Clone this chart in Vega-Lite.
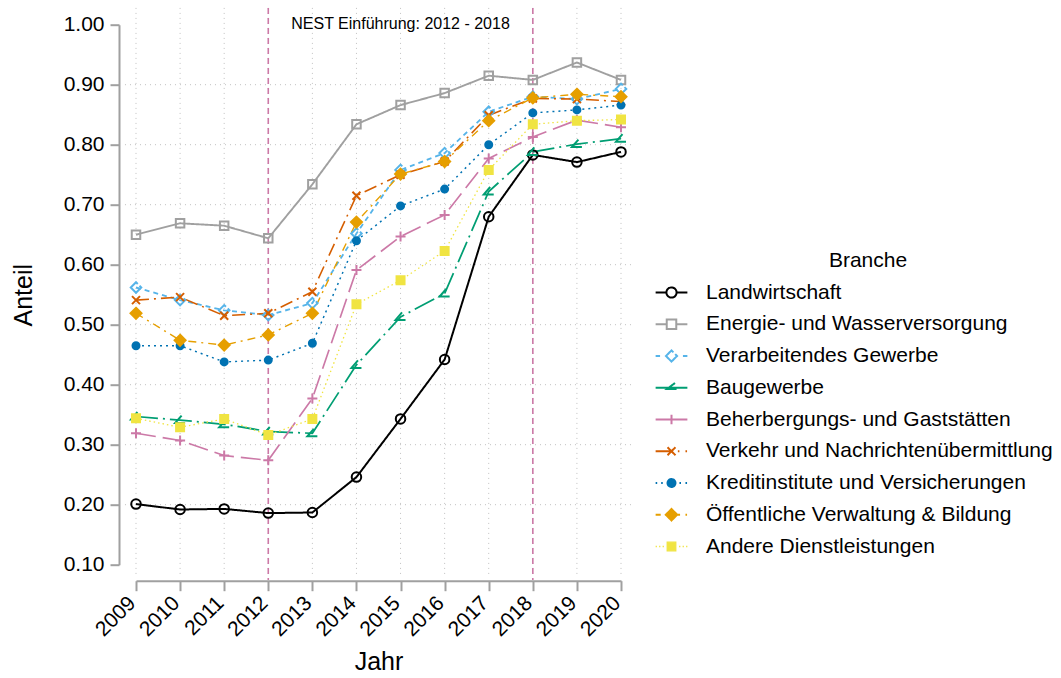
{
  "$schema": "https://vega.github.io/schema/vega-lite/v6.json",
  "width": 485,
  "height": 540,
  "autosize": {"type": "none"},
  "padding": {"left": 136, "top": 24.7, "right": 440, "bottom": 113.3},
  "background": "white",
  "config": {
    "view": {"stroke": null},
    "font": "Liberation Sans",
    "axis": {
      "domainColor": "#a0a0a0", "domainWidth": 2, "tickColor": "#a0a0a0", "tickWidth": 2,
      "labelFont": "Liberation Sans", "labelFontSize": 21, "labelColor": "#000000",
      "titleFont": "Liberation Sans", "titleFontSize": 25, "titleFontWeight": "normal", "titleColor": "#000000",
      "grid": false, "labelFlush": false, "labelOverlap": false
    }
  },
  "layer": [
    {
      "data": {"values": [{"g": 0.2}, {"g": 0.3}, {"g": 0.4}, {"g": 0.5}, {"g": 0.6}, {"g": 0.7}, {"g": 0.8}, {"g": 0.9}]},
      "mark": {"type": "rule", "color": "#c0c0c0", "strokeWidth": 1, "strokeDash": [1, 4]},
      "encoding": {
        "y": {"field": "g", "type": "quantitative", "title": "Anteil"},
        "x": {"datum": 2008.75, "type": "quantitative", "title": "Jahr"},
        "x2": {"datum": 2020.3}
      }
    },
    {
      "data": {"values": [{"Jahr": 2009}, {"Jahr": 2010}, {"Jahr": 2011}, {"Jahr": 2012}, {"Jahr": 2013}, {"Jahr": 2014}, {"Jahr": 2015}, {"Jahr": 2016}, {"Jahr": 2017}, {"Jahr": 2018}, {"Jahr": 2019}, {"Jahr": 2020}]},
      "mark": {"type": "rule", "color": "#c0c0c0", "strokeWidth": 1, "strokeDash": [1, 4]},
      "encoding": {
        "x": {"field": "Jahr", "type": "quantitative", "title": "Jahr"},
        "y": {"datum": 1.028, "type": "quantitative", "title": "Anteil"},
        "y2": {"datum": 0.08}
      }
    },
    {
      "data": {"values": [{"Jahr": 2012}, {"Jahr": 2018}]},
      "mark": {"type": "rule", "color": "#CC79A7", "strokeWidth": 1.6, "strokeDash": [6, 4]},
      "encoding": {
        "x": {"field": "Jahr", "type": "quantitative", "title": "Jahr"},
        "y": {"datum": 1.028, "type": "quantitative", "title": "Anteil"},
        "y2": {"datum": 0.0745}
      }
    },
    {
      "data": {"values": [{"Jahr": 2015, "label": "NEST Einführung: 2012 - 2018"}]},
      "mark": {"type": "text", "fontSize": 16, "font": "Liberation Sans", "color": "#000000", "align": "center", "baseline": "middle", "dy": -1},
      "encoding": {
        "x": {"field": "Jahr", "type": "quantitative", "title": "Jahr"},
        "y": {"datum": 1.0, "type": "quantitative", "title": "Anteil"},
        "text": {"field": "label"}
      }
    },
    {
      "data": {"name": "main"},
      "mark": {"type": "line", "strokeCap": "butt", "strokeJoin": "miter"},
      "encoding": {
        "x": {"field": "Jahr", "type": "quantitative",
              "scale": {"domain": [2009, 2020], "nice": false, "zero": false},
              "axis": {"values": [2009, 2010, 2011, 2012, 2013, 2014, 2015, 2016, 2017, 2018, 2019, 2020], "format": "d", "labelAngle": -45, "labelAlign": "right", "labelBaseline": "middle", "labelOffset": -4, "offset": 16, "tickSize": 10, "labelPadding": 9, "title": "Jahr", "titlePadding": 10}},
        "y": {"field": "Anteil", "type": "quantitative",
              "scale": {"domain": [0.1, 1.0], "nice": false, "zero": false},
              "axis": {"values": [0.1, 0.2, 0.3, 0.4, 0.5, 0.6, 0.7, 0.8, 0.9, 1.0], "format": ".2f", "offset": 17, "tickSize": 9, "labelPadding": 6, "title": "Anteil", "titlePadding": 27}},
        "stroke": {"field": "Branche", "type": "nominal",
          "scale": {"domain": ["Landwirtschaft", "Energie- und Wasserversorgung", "Verarbeitendes Gewerbe", "Baugewerbe", "Beherbergungs- und Gaststätten", "Verkehr und Nachrichtenübermittlung", "Kreditinstitute und Versicherungen", "Öffentliche Verwaltung & Bildung", "Andere Dienstleistungen"],
                    "range": ["#000000", "#a0a0a0", "#56B4E9", "#009E73", "#CC79A7", "#D55E00", "#0072B2", "#E69F00", "#F0E442"]},
          "legend": {
            "title": "Branche", "orient": "none", "legendX": 525, "legendY": 225.3, "padding": 0,
            "titleFont": "Liberation Sans", "titleFontSize": 21, "titleFontWeight": "normal", "titleColor": "#000000",
            "titleAnchor": "middle", "titlePadding": 11,
            "labelFont": "Liberation Sans", "labelFontSize": 21, "labelColor": "#000000", "labelOffset": 24, "labelLimit": 600,
            "symbolSize": 1008, "rowPadding": 9.75, "symbolStrokeWidth": 2,
            "encode": {
              "title": {"update": {"dx": {"value": 11}}},
              "symbols": {
                "update": {
                  "shape": {"signal": "datum.value === 'Landwirtschaft' ? 'M-1,0L-0.32,0M0.32,0L1,0M0.32,0A0.32,0.32,0,1,1,-0.32,0A0.32,0.32,0,1,1,0.32,0' : datum.value === 'Energie- und Wasserversorgung' ? 'M-1,0L-0.3,0M0.3,0L1,0M-0.3,-0.3L0.3,-0.3L0.3,0.3L-0.3,0.3Z' : datum.value === 'Verarbeitendes Gewerbe' ? 'M-1,0L-0.72,0M0.72,0L1,0M0.12,-0.23L0,-0.35L-0.35,0L0,0.35L0.35,0L0.23,-0.12' : datum.value === 'Baugewerbe' ? 'M-1,0L1,0M0.22,-0.3L-0.28,0.08L0.32,0.08' : datum.value === 'Beherbergungs- und Gaststätten' ? 'M-1,0L1,0M0,-0.3L0,0.3' : datum.value === 'Verkehr und Nachrichtenübermittlung' ? 'M-1,0L0.1,0M0.4,0L0.5,0M0.88,0L0.98,0M-0.25,-0.25L0.25,0.25M-0.25,0.25L0.25,-0.25' : datum.value === 'Kreditinstitute und Versicherungen' ? 'M-1,0L-0.9,0M-0.65,0L-0.55,0M0.5,0L0.6,0M0.88,0L0.98,0M0.25,0A0.25,0.25,0,1,1,-0.25,0A0.25,0.25,0,1,1,0.25,0' : datum.value === 'Öffentliche Verwaltung & Bildung' ? 'M-1,0L-0.68,0M0.3,0L0.54,0M0.88,0L0.98,0M0,-0.36L0.36,0L0,0.36L-0.36,0Z' : 'M-1,0L-0.92,0M-0.78,0L-0.7,0M-0.56,0L-0.48,0M0.48,0L0.56,0M0.7,0L0.78,0M0.92,0L1,0M-0.27,-0.27L0.27,-0.27L0.27,0.27L-0.27,0.27Z'"},
                  "fill": {"signal": "datum.value === 'Kreditinstitute und Versicherungen' ? '#0072B2' : datum.value === 'Öffentliche Verwaltung & Bildung' ? '#E69F00' : datum.value === 'Andere Dienstleistungen' ? '#F0E442' : 'transparent'"},
                  "strokeWidth": {"signal": "datum.value === 'Andere Dienstleistungen' ? 1.3 : 2"},
                  "strokeDash": {"value": [1, 0]},
                  "opacity": {"value": 1}
                }
              }
            }
          }
        },
        "strokeDash": {"field": "Branche", "type": "nominal", "legend": null,
          "scale": {"domain": ["Andere Dienstleistungen", "Öffentliche Verwaltung & Bildung", "Kreditinstitute und Versicherungen", "Verkehr und Nachrichtenübermittlung", "Beherbergungs- und Gaststätten", "Baugewerbe", "Verarbeitendes Gewerbe", "Energie- und Wasserversorgung", "Landwirtschaft"],
                    "range": [[1.5, 3], [8, 5, 2, 5], [2, 4], [13, 5, 2, 5], [20, 7], [22, 5, 2, 5], [5, 4], [1, 0], [1, 0]]}},
        "strokeWidth": {"field": "Branche", "type": "nominal", "legend": null,
          "scale": {"domain": ["Andere Dienstleistungen", "Öffentliche Verwaltung & Bildung", "Kreditinstitute und Versicherungen", "Verkehr und Nachrichtenübermittlung", "Beherbergungs- und Gaststätten", "Baugewerbe", "Verarbeitendes Gewerbe", "Energie- und Wasserversorgung", "Landwirtschaft"],
                    "range": [1.3, 2, 2, 2, 2, 2, 2, 2.2, 2.2]}}
      }
    },
    {
      "data": {"name": "main"},
      "mark": {"type": "point", "size": 100, "strokeWidth": 2, "opacity": 1, "filled": false},
      "encoding": {
        "x": {"field": "Jahr", "type": "quantitative", "title": "Jahr"},
        "y": {"field": "Anteil", "type": "quantitative", "title": "Anteil"},
        "stroke": {"field": "Branche", "type": "nominal",
          "scale": {"domain": ["Landwirtschaft", "Energie- und Wasserversorgung", "Verarbeitendes Gewerbe", "Baugewerbe", "Beherbergungs- und Gaststätten", "Verkehr und Nachrichtenübermittlung", "Kreditinstitute und Versicherungen", "Öffentliche Verwaltung & Bildung", "Andere Dienstleistungen"],
                    "range": ["#000000", "#a0a0a0", "#56B4E9", "#009E73", "#CC79A7", "#D55E00", "#0072B2", "#E69F00", "#F0E442"]}},
        "fill": {"field": "Branche", "type": "nominal", "legend": null,
          "scale": {"domain": ["Andere Dienstleistungen", "Öffentliche Verwaltung & Bildung", "Kreditinstitute und Versicherungen", "Verkehr und Nachrichtenübermittlung", "Beherbergungs- und Gaststätten", "Baugewerbe", "Verarbeitendes Gewerbe", "Energie- und Wasserversorgung", "Landwirtschaft"],
                    "range": ["#F0E442", "#E69F00", "#0072B2", "transparent", "transparent", "transparent", "transparent", "transparent", "transparent"]}},
        "shape": {"field": "Branche", "type": "nominal", "legend": null,
          "scale": {"domain": ["Andere Dienstleistungen", "Öffentliche Verwaltung & Bildung", "Kreditinstitute und Versicherungen", "Verkehr und Nachrichtenübermittlung", "Beherbergungs- und Gaststätten", "Baugewerbe", "Verarbeitendes Gewerbe", "Energie- und Wasserversorgung", "Landwirtschaft"],
                    "range": ["M-0.8,-0.8L0.8,-0.8L0.8,0.8L-0.8,0.8Z", "M0,-1.1L1.1,0L0,1.1L-1.1,0Z", "M0.7,0A0.7,0.7,0,1,1,-0.7,0A0.7,0.7,0,1,1,0.7,0", "M-0.8,-0.8L0.8,0.8M-0.8,0.8L0.8,-0.8", "M-1,0L1,0M0,-1L0,1", "M0.3,-0.9L-1,0.6L1,0.6", "M0.35,-0.7L0,-1.05L-1.05,0L0,1.05L1.05,0L0.7,-0.35", "M-0.85,-0.85L0.85,-0.85L0.85,0.85L-0.85,0.85Z", "M0.95,0A0.95,0.95,0,1,1,-0.95,0A0.95,0.95,0,1,1,0.95,0"]}}
      }
    }
  ],
  "datasets": {
    "main": [
      {"Branche": "Landwirtschaft", "Jahr": 2009, "Anteil": 0.201},
      {"Branche": "Landwirtschaft", "Jahr": 2010, "Anteil": 0.192},
      {"Branche": "Landwirtschaft", "Jahr": 2011, "Anteil": 0.193},
      {"Branche": "Landwirtschaft", "Jahr": 2012, "Anteil": 0.186},
      {"Branche": "Landwirtschaft", "Jahr": 2013, "Anteil": 0.187},
      {"Branche": "Landwirtschaft", "Jahr": 2014, "Anteil": 0.246},
      {"Branche": "Landwirtschaft", "Jahr": 2015, "Anteil": 0.343},
      {"Branche": "Landwirtschaft", "Jahr": 2016, "Anteil": 0.442},
      {"Branche": "Landwirtschaft", "Jahr": 2017, "Anteil": 0.680},
      {"Branche": "Landwirtschaft", "Jahr": 2018, "Anteil": 0.783},
      {"Branche": "Landwirtschaft", "Jahr": 2019, "Anteil": 0.771},
      {"Branche": "Landwirtschaft", "Jahr": 2020, "Anteil": 0.788},
      {"Branche": "Energie- und Wasserversorgung", "Jahr": 2009, "Anteil": 0.650},
      {"Branche": "Energie- und Wasserversorgung", "Jahr": 2010, "Anteil": 0.669},
      {"Branche": "Energie- und Wasserversorgung", "Jahr": 2011, "Anteil": 0.665},
      {"Branche": "Energie- und Wasserversorgung", "Jahr": 2012, "Anteil": 0.644},
      {"Branche": "Energie- und Wasserversorgung", "Jahr": 2013, "Anteil": 0.734},
      {"Branche": "Energie- und Wasserversorgung", "Jahr": 2014, "Anteil": 0.834},
      {"Branche": "Energie- und Wasserversorgung", "Jahr": 2015, "Anteil": 0.866},
      {"Branche": "Energie- und Wasserversorgung", "Jahr": 2016, "Anteil": 0.886},
      {"Branche": "Energie- und Wasserversorgung", "Jahr": 2017, "Anteil": 0.915},
      {"Branche": "Energie- und Wasserversorgung", "Jahr": 2018, "Anteil": 0.908},
      {"Branche": "Energie- und Wasserversorgung", "Jahr": 2019, "Anteil": 0.937},
      {"Branche": "Energie- und Wasserversorgung", "Jahr": 2020, "Anteil": 0.908},
      {"Branche": "Verarbeitendes Gewerbe", "Jahr": 2009, "Anteil": 0.562},
      {"Branche": "Verarbeitendes Gewerbe", "Jahr": 2010, "Anteil": 0.541},
      {"Branche": "Verarbeitendes Gewerbe", "Jahr": 2011, "Anteil": 0.524},
      {"Branche": "Verarbeitendes Gewerbe", "Jahr": 2012, "Anteil": 0.516},
      {"Branche": "Verarbeitendes Gewerbe", "Jahr": 2013, "Anteil": 0.536},
      {"Branche": "Verarbeitendes Gewerbe", "Jahr": 2014, "Anteil": 0.652},
      {"Branche": "Verarbeitendes Gewerbe", "Jahr": 2015, "Anteil": 0.758},
      {"Branche": "Verarbeitendes Gewerbe", "Jahr": 2016, "Anteil": 0.786},
      {"Branche": "Verarbeitendes Gewerbe", "Jahr": 2017, "Anteil": 0.855},
      {"Branche": "Verarbeitendes Gewerbe", "Jahr": 2018, "Anteil": 0.880},
      {"Branche": "Verarbeitendes Gewerbe", "Jahr": 2019, "Anteil": 0.876},
      {"Branche": "Verarbeitendes Gewerbe", "Jahr": 2020, "Anteil": 0.893},
      {"Branche": "Baugewerbe", "Jahr": 2009, "Anteil": 0.347},
      {"Branche": "Baugewerbe", "Jahr": 2010, "Anteil": 0.341},
      {"Branche": "Baugewerbe", "Jahr": 2011, "Anteil": 0.334},
      {"Branche": "Baugewerbe", "Jahr": 2012, "Anteil": 0.322},
      {"Branche": "Baugewerbe", "Jahr": 2013, "Anteil": 0.319},
      {"Branche": "Baugewerbe", "Jahr": 2014, "Anteil": 0.433},
      {"Branche": "Baugewerbe", "Jahr": 2015, "Anteil": 0.513},
      {"Branche": "Baugewerbe", "Jahr": 2016, "Anteil": 0.552},
      {"Branche": "Baugewerbe", "Jahr": 2017, "Anteil": 0.722},
      {"Branche": "Baugewerbe", "Jahr": 2018, "Anteil": 0.788},
      {"Branche": "Baugewerbe", "Jahr": 2019, "Anteil": 0.801},
      {"Branche": "Baugewerbe", "Jahr": 2020, "Anteil": 0.810},
      {"Branche": "Beherbergungs- und Gaststätten", "Jahr": 2009, "Anteil": 0.319},
      {"Branche": "Beherbergungs- und Gaststätten", "Jahr": 2010, "Anteil": 0.307},
      {"Branche": "Beherbergungs- und Gaststätten", "Jahr": 2011, "Anteil": 0.282},
      {"Branche": "Beherbergungs- und Gaststätten", "Jahr": 2012, "Anteil": 0.274},
      {"Branche": "Beherbergungs- und Gaststätten", "Jahr": 2013, "Anteil": 0.377},
      {"Branche": "Beherbergungs- und Gaststätten", "Jahr": 2014, "Anteil": 0.591},
      {"Branche": "Beherbergungs- und Gaststätten", "Jahr": 2015, "Anteil": 0.647},
      {"Branche": "Beherbergungs- und Gaststätten", "Jahr": 2016, "Anteil": 0.683},
      {"Branche": "Beherbergungs- und Gaststätten", "Jahr": 2017, "Anteil": 0.777},
      {"Branche": "Beherbergungs- und Gaststätten", "Jahr": 2018, "Anteil": 0.813},
      {"Branche": "Beherbergungs- und Gaststätten", "Jahr": 2019, "Anteil": 0.841},
      {"Branche": "Beherbergungs- und Gaststätten", "Jahr": 2020, "Anteil": 0.829},
      {"Branche": "Verkehr und Nachrichtenübermittlung", "Jahr": 2009, "Anteil": 0.541},
      {"Branche": "Verkehr und Nachrichtenübermittlung", "Jahr": 2010, "Anteil": 0.546},
      {"Branche": "Verkehr und Nachrichtenübermittlung", "Jahr": 2011, "Anteil": 0.515},
      {"Branche": "Verkehr und Nachrichtenübermittlung", "Jahr": 2012, "Anteil": 0.519},
      {"Branche": "Verkehr und Nachrichtenübermittlung", "Jahr": 2013, "Anteil": 0.555},
      {"Branche": "Verkehr und Nachrichtenübermittlung", "Jahr": 2014, "Anteil": 0.715},
      {"Branche": "Verkehr und Nachrichtenübermittlung", "Jahr": 2015, "Anteil": 0.750},
      {"Branche": "Verkehr und Nachrichtenübermittlung", "Jahr": 2016, "Anteil": 0.772},
      {"Branche": "Verkehr und Nachrichtenübermittlung", "Jahr": 2017, "Anteil": 0.849},
      {"Branche": "Verkehr und Nachrichtenübermittlung", "Jahr": 2018, "Anteil": 0.877},
      {"Branche": "Verkehr und Nachrichtenübermittlung", "Jahr": 2019, "Anteil": 0.876},
      {"Branche": "Verkehr und Nachrichtenübermittlung", "Jahr": 2020, "Anteil": 0.872},
      {"Branche": "Kreditinstitute und Versicherungen", "Jahr": 2009, "Anteil": 0.465},
      {"Branche": "Kreditinstitute und Versicherungen", "Jahr": 2010, "Anteil": 0.465},
      {"Branche": "Kreditinstitute und Versicherungen", "Jahr": 2011, "Anteil": 0.438},
      {"Branche": "Kreditinstitute und Versicherungen", "Jahr": 2012, "Anteil": 0.441},
      {"Branche": "Kreditinstitute und Versicherungen", "Jahr": 2013, "Anteil": 0.469},
      {"Branche": "Kreditinstitute und Versicherungen", "Jahr": 2014, "Anteil": 0.640},
      {"Branche": "Kreditinstitute und Versicherungen", "Jahr": 2015, "Anteil": 0.698},
      {"Branche": "Kreditinstitute und Versicherungen", "Jahr": 2016, "Anteil": 0.726},
      {"Branche": "Kreditinstitute und Versicherungen", "Jahr": 2017, "Anteil": 0.800},
      {"Branche": "Kreditinstitute und Versicherungen", "Jahr": 2018, "Anteil": 0.853},
      {"Branche": "Kreditinstitute und Versicherungen", "Jahr": 2019, "Anteil": 0.858},
      {"Branche": "Kreditinstitute und Versicherungen", "Jahr": 2020, "Anteil": 0.866},
      {"Branche": "Öffentliche Verwaltung & Bildung", "Jahr": 2009, "Anteil": 0.519},
      {"Branche": "Öffentliche Verwaltung & Bildung", "Jahr": 2010, "Anteil": 0.474},
      {"Branche": "Öffentliche Verwaltung & Bildung", "Jahr": 2011, "Anteil": 0.466},
      {"Branche": "Öffentliche Verwaltung & Bildung", "Jahr": 2012, "Anteil": 0.483},
      {"Branche": "Öffentliche Verwaltung & Bildung", "Jahr": 2013, "Anteil": 0.519},
      {"Branche": "Öffentliche Verwaltung & Bildung", "Jahr": 2014, "Anteil": 0.671},
      {"Branche": "Öffentliche Verwaltung & Bildung", "Jahr": 2015, "Anteil": 0.751},
      {"Branche": "Öffentliche Verwaltung & Bildung", "Jahr": 2016, "Anteil": 0.772},
      {"Branche": "Öffentliche Verwaltung & Bildung", "Jahr": 2017, "Anteil": 0.840},
      {"Branche": "Öffentliche Verwaltung & Bildung", "Jahr": 2018, "Anteil": 0.878},
      {"Branche": "Öffentliche Verwaltung & Bildung", "Jahr": 2019, "Anteil": 0.884},
      {"Branche": "Öffentliche Verwaltung & Bildung", "Jahr": 2020, "Anteil": 0.880},
      {"Branche": "Andere Dienstleistungen", "Jahr": 2009, "Anteil": 0.344},
      {"Branche": "Andere Dienstleistungen", "Jahr": 2010, "Anteil": 0.329},
      {"Branche": "Andere Dienstleistungen", "Jahr": 2011, "Anteil": 0.343},
      {"Branche": "Andere Dienstleistungen", "Jahr": 2012, "Anteil": 0.316},
      {"Branche": "Andere Dienstleistungen", "Jahr": 2013, "Anteil": 0.343},
      {"Branche": "Andere Dienstleistungen", "Jahr": 2014, "Anteil": 0.534},
      {"Branche": "Andere Dienstleistungen", "Jahr": 2015, "Anteil": 0.574},
      {"Branche": "Andere Dienstleistungen", "Jahr": 2016, "Anteil": 0.623},
      {"Branche": "Andere Dienstleistungen", "Jahr": 2017, "Anteil": 0.758},
      {"Branche": "Andere Dienstleistungen", "Jahr": 2018, "Anteil": 0.834},
      {"Branche": "Andere Dienstleistungen", "Jahr": 2019, "Anteil": 0.840},
      {"Branche": "Andere Dienstleistungen", "Jahr": 2020, "Anteil": 0.842}
    ]
  }
}
